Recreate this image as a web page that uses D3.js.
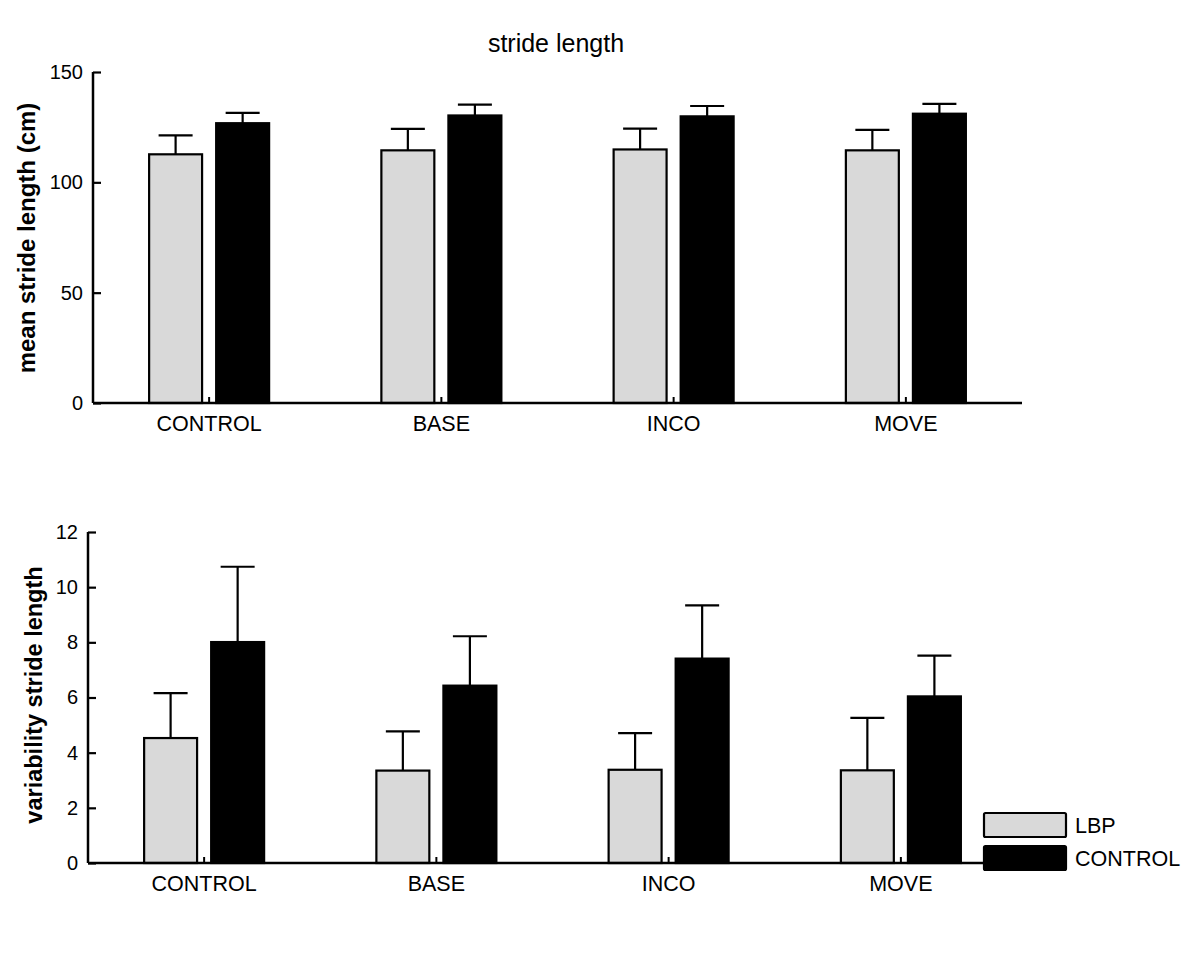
<!DOCTYPE html>
<html>
<head>
<meta charset="utf-8">
<script src="https://cdn.jsdelivr.net/npm/d3@7"></script>
<style>
  body { margin: 0; background: #fff; }
  svg { display: block; font-family: Arial, "Liberation Sans", sans-serif; }
</style>
</head>
<body>
<svg id="chart" width="1200" height="974"></svg>
<script>
// ---- data ----
const categories = ["CONTROL", "BASE", "INCO", "MOVE"];
const seriesNames = ["LBP", "CONTROL"];

const meanLBP      = [112.7, 114.5, 114.9, 114.5];
const meanLBPErr   = [8.6, 9.7, 9.4, 9.3];
const meanCTRL     = [126.8, 130.3, 129.9, 131.1];
const meanCTRLErr  = [4.7, 4.9, 4.7, 4.5];
const meanTicks    = [0, 50, 100, 150];

const varLBP       = [4.53, 3.35, 3.38, 3.36];
const varLBPErr    = [1.63, 1.42, 1.33, 1.90];
const varCTRL      = [8.01, 6.43, 7.41, 6.04];
const varCTRLErr   = [2.73, 1.79, 1.93, 1.48];
const varTicks     = [0, 2, 4, 6, 8, 10, 12];

const fills = { "LBP": "#d9d9d9", "CONTROL": "#000000" };

const svg = d3.select("#chart");

function panel(opts) {
  const g = svg.append("g");
  const x = d3.scaleBand().domain(categories).range([opts.x0, opts.x1]).padding(0);
  const xs = d3.scaleBand().domain(seriesNames).range([-60, 60]).paddingInner(0.21);
  const y = d3.scaleLinear().domain([0, opts.ymax]).range([opts.yBottom, opts.yTop]);

  const rows = [];
  categories.forEach((c, i) => {
    rows.push({ cat: c, s: "LBP", v: opts.lbp[i], e: opts.lbpErr[i] });
    rows.push({ cat: c, s: "CONTROL", v: opts.ctrl[i], e: opts.ctrlErr[i] });
  });

  // error bars (upper only)
  const eb = g.append("g").attr("stroke", "#000").attr("stroke-width", 2.2);
  rows.forEach(d => {
    const cx = x(d.cat) + x.bandwidth() / 2 + xs(d.s) + xs.bandwidth() / 2;
    eb.append("line").attr("x1", cx).attr("x2", cx).attr("y1", y(d.v)).attr("y2", y(d.v + d.e));
    eb.append("line").attr("x1", cx - 17).attr("x2", cx + 17).attr("y1", y(d.v + d.e)).attr("y2", y(d.v + d.e));
  });

  // bars
  g.append("g").selectAll("rect").data(rows).join("rect")
    .attr("x", d => x(d.cat) + x.bandwidth() / 2 + xs(d.s))
    .attr("width", xs.bandwidth())
    .attr("y", d => y(d.v))
    .attr("height", d => y(0) - y(d.v))
    .attr("fill", d => fills[d.s])
    .attr("stroke", "#000")
    .attr("stroke-width", 2.2);

  // category ticks (small, upward)
  g.append("g").selectAll("line").data(categories).join("line")
    .attr("x1", d => x(d) + x.bandwidth() / 2).attr("x2", d => x(d) + x.bandwidth() / 2)
    .attr("y1", y(0)).attr("y2", y(0) - 6)
    .attr("stroke", "#000").attr("stroke-width", 2);

  // x axis line
  g.append("line").attr("x1", opts.x0).attr("x2", opts.x1)
    .attr("y1", y(0)).attr("y2", y(0)).attr("stroke", "#000").attr("stroke-width", 2.5);

  // category labels
  g.append("g").selectAll("text").data(categories).join("text")
    .attr("x", d => x(d) + x.bandwidth() / 2)
    .attr("y", y(0) + opts.labelDy)
    .attr("text-anchor", "middle")
    .attr("font-size", 21.5)
    .text(d => d);

  // y axis
  const yAxis = d3.axisRight(y).tickValues(opts.ticks).tickSize(8).tickFormat(d3.format("d"));
  const ya = g.append("g").attr("transform", `translate(${opts.x0},0)`).call(yAxis);
  ya.select(".domain").attr("stroke-width", 2.5).attr("d", `M0,${opts.yTop}V${opts.yBottom}`);
  ya.selectAll(".tick line").attr("stroke-width", 2.2);
  ya.selectAll(".tick text")
    .attr("x", -10).attr("text-anchor", "end")
    .attr("font-size", 20).attr("font-family", "Arial, 'Liberation Sans', sans-serif")
    .attr("fill", "#000");

  // y label
  g.append("text")
    .attr("transform", `translate(${opts.labelX},${opts.labelY}) rotate(-90)`)
    .attr("text-anchor", "middle")
    .attr("font-weight", "bold")
    .attr("font-size", opts.labelSize)
    .text(opts.ylabel);
  return { x, y };
}

panel({
  x0: 93, x1: 1022, yTop: 72, yBottom: 403, ymax: 150,
  lbp: meanLBP, lbpErr: meanLBPErr, ctrl: meanCTRL, ctrlErr: meanCTRLErr,
  ticks: meanTicks, ylabel: "mean stride length (cm)",
  labelX: 35, labelY: 238, labelSize: 24, labelDy: 28
});

panel({
  x0: 88, x1: 1017, yTop: 532, yBottom: 863, ymax: 12,
  lbp: varLBP, lbpErr: varLBPErr, ctrl: varCTRL, ctrlErr: varCTRLErr,
  ticks: varTicks, ylabel: "variability stride length",
  labelX: 42, labelY: 695, labelSize: 23.5, labelDy: 28
});

// title
svg.append("text").attr("x", 556).attr("y", 52).attr("text-anchor", "middle")
  .attr("font-size", 25).text("stride length");

// legend
const legend = svg.append("g").attr("transform", "translate(984,813)");
seriesNames.forEach((s, i) => {
  legend.append("rect").attr("x", 0).attr("y", i * 33).attr("width", 82).attr("height", 24)
    .attr("rx", 1.5).attr("fill", fills[s]).attr("stroke", "#000").attr("stroke-width", 2.2);
  legend.append("text").attr("x", 91).attr("y", i * 33 + 20).attr("font-size", 21.5).text(s);
});
</script>
</body>
</html>
